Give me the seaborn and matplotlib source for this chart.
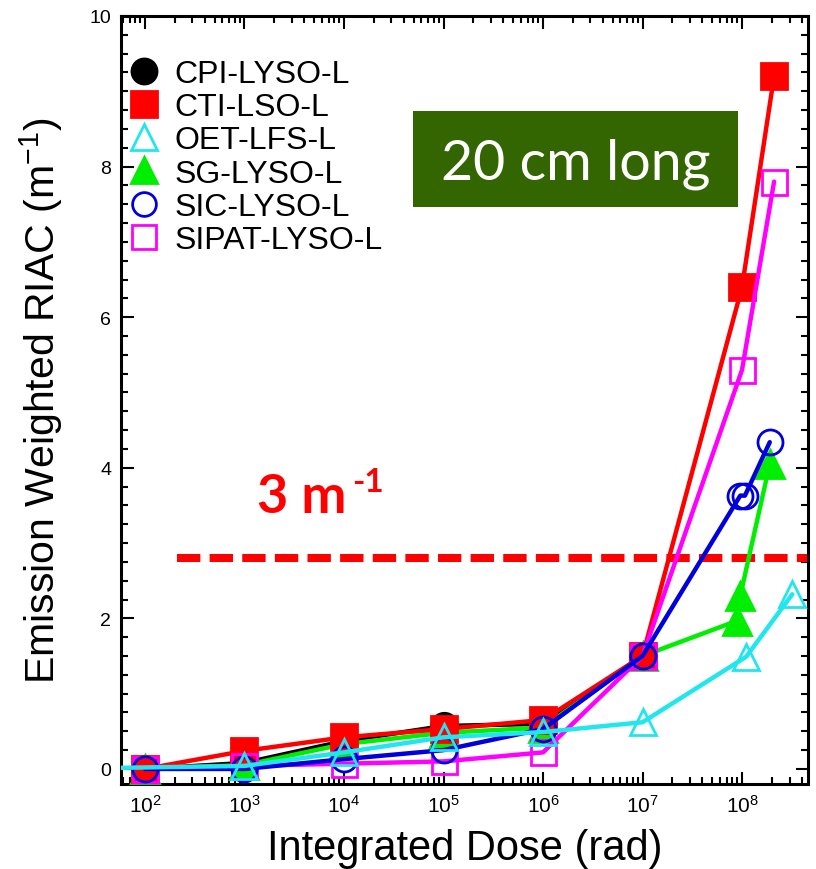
import matplotlib
matplotlib.use("Agg")
import matplotlib.pyplot as plt
from matplotlib.lines import Line2D
from matplotlib.patches import Rectangle
from matplotlib.ticker import FixedLocator, LogLocator, MultipleLocator, NullFormatter
import seaborn as sns

# ---------------- data ----------------
labels = ["CPI-LYSO-L", "CTI-LSO-L", "OET-LFS-L", "SG-LYSO-L", "SIC-LYSO-L", "SIPAT-LYSO-L"]

dose_cpi = [1e2, 1e3, 1e4, 1e5, 1e6, 1e7]
riac_cpi = [0.0, 0.08, 0.37, 0.57, 0.60, 1.50]

dose_cti = [1e2, 1e3, 1e4, 1e5, 1e6, 1e7, 1e8, 2.1e8]
riac_cti = [0.0, 0.24, 0.42, 0.53, 0.65, 1.50, 6.40, 9.20]

dose_oet = [1e1, 1e3, 1e4, 1e5, 1e6, 1e7, 1.1e8, 3.2e8]
riac_oet = [0.0, 0.04, 0.22, 0.42, 0.49, 0.62, 1.49, 2.32]

dose_sg = [1e2, 1e3, 1e4, 1e5, 1e6, 1e7, 9e7, 9.6e7, 1.9e8]
riac_sg = [0.0, 0.05, 0.33, 0.48, 0.55, 1.50, 1.97, 2.30, 4.05]

dose_sic = [1e2, 1e3, 1e4, 1e5, 1e6, 1e7, 9.6e7, 1.07e8, 1.9e8]
riac_sic = [0.0, 0.0, 0.13, 0.25, 0.53, 1.50, 3.63, 3.63, 4.34]

dose_sipat = [1e2, 1e3, 1e4, 1e5, 1e6, 1e7, 1e8, 2.1e8]
riac_sipat = [0.0, 0.04, 0.07, 0.10, 0.22, 1.50, 5.30, 7.80]

threshold = 2.8
xtick_exponents = [2, 3, 4, 5, 6, 7, 8]
ytick_values = [0, 2, 4, 6, 8, 10]

# ---------------- style ----------------
sns.set_style("ticks")
plt.rcParams["font.family"] = ["Liberation Sans", "DejaVu Sans"]
plt.rcParams["mathtext.fontset"] = "custom"
plt.rcParams["mathtext.rm"] = "Liberation Sans"
plt.rcParams["mathtext.it"] = "Liberation Sans:italic"
plt.rcParams["mathtext.bf"] = "Liberation Sans:bold"
for k in ["text.color", "axes.labelcolor", "xtick.color", "ytick.color", "axes.edgecolor"]:
    plt.rcParams[k] = "black"

fig = plt.figure(figsize=(8.16, 8.70), dpi=100)
W, H = 816, 870
ax = fig.add_axes([121 / W, 1 - 785 / H, (808 - 121) / W, (785 - 17) / H])
ax.set_xscale("log")

style = {
    # color, marker, face, ms, zorder
    "CPI-LYSO-L": ("black", "o", "black", 19, 3),
    "SG-LYSO-L": ("#00ee00", "^", "#00ee00", 20, 4),
    "CTI-LSO-L": ("#ff0000", "s", "#ff0000", 19, 5),
    "SIPAT-LYSO-L": ("#ff00ff", "s", "none", 18, 6),
    "SIC-LYSO-L": ("#0000dd", "o", "none", 18, 7),
    "OET-LFS-L": ("#22e6ee", "^", "none", 19, 8),
}
data = {
    "CPI-LYSO-L": (dose_cpi, riac_cpi),
    "SG-LYSO-L": (dose_sg, riac_sg),
    "CTI-LSO-L": (dose_cti, riac_cti),
    "SIPAT-LYSO-L": (dose_sipat, riac_sipat),
    "SIC-LYSO-L": (dose_sic, riac_sic),
    "OET-LFS-L": (dose_oet, riac_oet),
}

for name, (d, r) in data.items():
    c, m, fc, ms, z = style[name]
    sns.lineplot(x=d, y=r, ax=ax, color=c, lw=3.2, marker=m, markersize=ms,
                 markerfacecolor=fc, markeredgecolor=c, markeredgewidth=2.0,
                 estimator=None, sort=False, legend=False, zorder=z)

# threshold line
ax.axhline(threshold, xmin=(177 - 121) / 687, xmax=1.0, color="#ff0000", lw=5.8,
           dashes=(2.9, 1.15), solid_capstyle="butt", dash_capstyle="butt", zorder=2)

ax.set_xlim(10 ** 1.759, 10 ** 8.663)
ax.set_ylim(-0.2, 10)

ax.xaxis.set_major_locator(FixedLocator([10.0 ** e for e in xtick_exponents]))
ax.set_xticklabels([r"$10^{%d}$" % e for e in xtick_exponents])
ax.xaxis.set_minor_locator(LogLocator(base=10, subs=range(2, 10), numticks=20))
ax.xaxis.set_minor_formatter(NullFormatter())
ax.set_yticks(ytick_values)
ax.set_yticklabels([str(v) for v in ytick_values])
ax.yaxis.set_minor_locator(MultipleLocator(0.25))

ax.tick_params(which="both", direction="in", top=True, right=True, width=1.5, colors="black")
ax.tick_params(which="major", length=9)
ax.tick_params(which="minor", length=5)
ax.tick_params(axis="x", which="major", labelsize=15, pad=7)
ax.tick_params(axis="y", which="major", labelsize=14, pad=7)
for s in ax.spines.values():
    s.set_linewidth(2.2)
    s.set_color("black")

ax.set_xlabel("Integrated Dose (rad)", fontsize=30, color="black")
ax.set_ylabel(r"Emission Weighted RIAC (m$^{-1}$)", fontsize=29.5, color="black")
ax.xaxis.set_label_coords(0.5, (785 - 829) / 768)
ax.yaxis.set_label_coords((65 - 121) / 687, 0.5)

# legend
handles = []
for lab in labels:
    c, m, fc, ms, z = style[lab]
    handles.append(Line2D([], [], linestyle="None", marker=m, markersize=ms * 0.95,
                          markerfacecolor=fc, markeredgecolor=c, markeredgewidth=2.0))
ax.legend(handles, labels, loc="upper left", bbox_to_anchor=(130 / W, 1 - 60 / H),
          bbox_transform=fig.transFigure, frameon=False, fontsize=23,
          handlelength=0.9, handletextpad=0.5, labelspacing=0.1,
          borderpad=0, borderaxespad=0)

# "20 cm long" box
ax.add_patch(Rectangle(((413 - 121) / 687, (785 - 208) / 768), (738 - 413) / 687, 96 / 768,
                       transform=ax.transAxes, facecolor="#336600", edgecolor="none", zorder=10))
ax.text((576 - 121) / 687, (785 - 180) / 768, "20 cm long", transform=ax.transAxes,
        ha="center", va="baseline", color="white", fontsize=40, family="Lato", zorder=11)

# "3 m-1" annotation
fig.text(257 / W, 1 - 513 / H, "3 m", color="#ff0000", fontsize=39, fontweight="bold",
         family="Lato", ha="left", va="baseline")
fig.text(352 / W, 1 - 492 / H, "-1", color="#ff0000", fontsize=24, fontweight="bold",
         family="Lato", ha="left", va="baseline")

fig.savefig("out.png", dpi=100)
